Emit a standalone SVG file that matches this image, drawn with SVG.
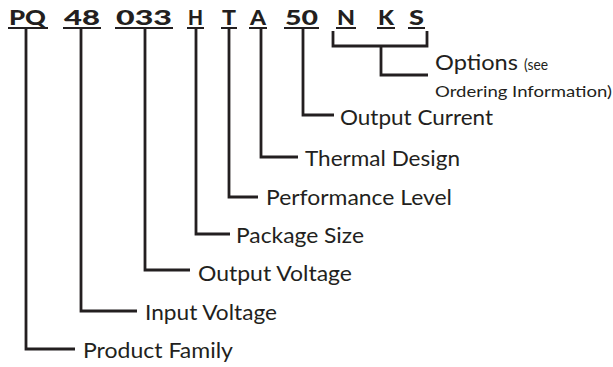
<svg xmlns="http://www.w3.org/2000/svg" width="613" height="367" viewBox="0 0 613 367">
<style>
.code{font-family:Lato,"Liberation Sans",sans-serif;font-weight:900;font-size:21px;fill:#231f20}
.lbl{font-family:Lato,"Liberation Sans",sans-serif;font-size:22px;fill:#231f20}
.sm{font-family:Lato,"Liberation Sans",sans-serif;font-size:16px;fill:#231f20}
.ul{stroke:#231f20;stroke-width:2;fill:none}
.ln{stroke:#231f20;stroke-width:2.8;fill:none}
</style>
<rect width="613" height="367" fill="#fff"/>
<g id="code">
<text class="code" x="9" y="25" textLength="37" lengthAdjust="spacingAndGlyphs">PQ</text>
<text class="code" x="64" y="25" textLength="36" lengthAdjust="spacingAndGlyphs">48</text>
<text class="code" x="116" y="25" textLength="56" lengthAdjust="spacingAndGlyphs">033</text>
<text class="code" x="188" y="25" textLength="15" lengthAdjust="spacingAndGlyphs">H</text>
<text class="code" x="222" y="25" textLength="14" lengthAdjust="spacingAndGlyphs">T</text>
<text class="code" x="250" y="25" textLength="16" lengthAdjust="spacingAndGlyphs">A</text>
<text class="code" x="285" y="25" textLength="33" lengthAdjust="spacingAndGlyphs">50</text>
<text class="code" x="337" y="25" textLength="18" lengthAdjust="spacingAndGlyphs">N</text>
<text class="code" x="378" y="25" textLength="16" lengthAdjust="spacingAndGlyphs">K</text>
<text class="code" x="409" y="25" textLength="15" lengthAdjust="spacingAndGlyphs">S</text>
<path class="ul" d="M8 28H48M63 28H101M115 28H173M187 28H204M221 28H237M249 28H267M284 28H319M336 28H356M377 28H395M408 28H425"/>
</g>
<g id="connectors">
<path class="ln" d="M26 29V349H75"/>
<path class="ln" d="M81 29V311H137"/>
<path class="ln" d="M145 29V270H190"/>
<path class="ln" d="M196 29V234H230"/>
<path class="ln" d="M229 29V197H258"/>
<path class="ln" d="M261 29V157H298"/>
<path class="ln" d="M303 29V115H334"/>
<path class="ln" d="M333 31V46H427V31M381 46V75H428"/>
</g>
<g id="product-family"><text class="lbl" x="83" y="358" textLength="150" lengthAdjust="spacingAndGlyphs">Product Family</text></g>
<g id="input-voltage"><text class="lbl" x="145" y="320" textLength="132" lengthAdjust="spacingAndGlyphs">Input Voltage</text></g>
<g id="output-voltage"><text class="lbl" x="198" y="281" textLength="154" lengthAdjust="spacingAndGlyphs">Output Voltage</text></g>
<g id="package-size"><text class="lbl" x="236" y="243" textLength="128" lengthAdjust="spacingAndGlyphs">Package Size</text></g>
<g id="performance-level"><text class="lbl" x="266" y="205" textLength="186" lengthAdjust="spacingAndGlyphs">Performance Level</text></g>
<g id="thermal-design"><text class="lbl" x="305" y="166" textLength="155" lengthAdjust="spacingAndGlyphs">Thermal Design</text></g>
<g id="output-current"><text class="lbl" x="340" y="125" textLength="153" lengthAdjust="spacingAndGlyphs">Output Current</text></g>
<g id="options"><text class="lbl" x="435" y="70" textLength="83" lengthAdjust="spacingAndGlyphs">Options</text><text class="sm" x="524" y="70" textLength="24" lengthAdjust="spacingAndGlyphs">(see</text>
<text class="sm" x="435" y="97" textLength="177" lengthAdjust="spacingAndGlyphs">Ordering Information)</text></g>
</svg>
